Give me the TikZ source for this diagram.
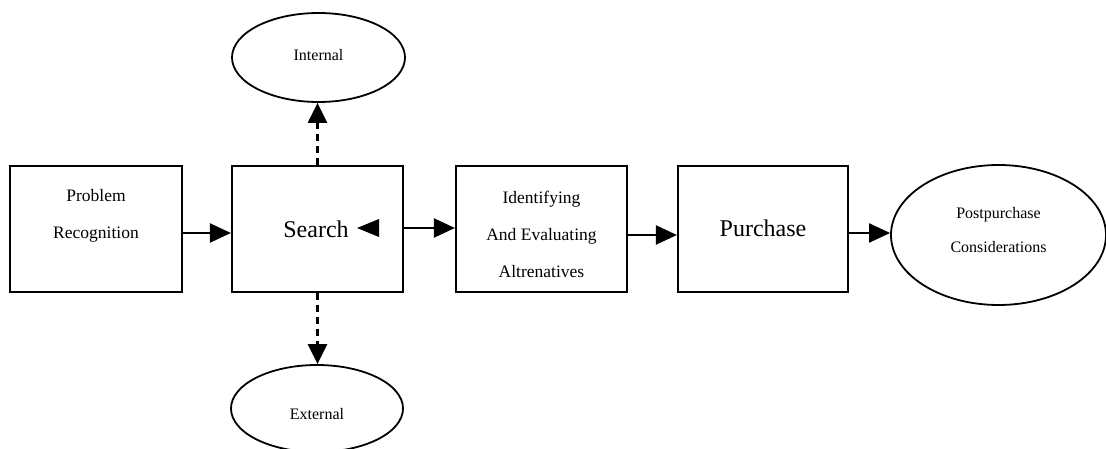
\documentclass[tikz,border=0pt]{standalone}
\usepackage{fontspec}
\setmainfont{Liberation Serif}
\usetikzlibrary{arrows.meta,shapes.geometric}
\tikzset{
  stagebox/.style={draw, line width=2.2pt, rectangle, inner sep=0pt},
  oval/.style={draw, line width=1.8pt, ellipse, inner sep=0pt},
  smalltxt/.style={align=center, inner sep=0pt, font=\fontsize{17.5}{37}\selectfont},
  oveltxt/.style={align=center, inner sep=0pt, font=\fontsize{16}{34}\selectfont},
  bigtxt/.style={inner sep=0pt, font=\fontsize{24}{28}\selectfont},
  arr/.style={line width=2.2pt, -{Triangle[length=21pt,width=19pt]}},
  darr/.style={line width=2.4pt, dash pattern=on 7pt off 5pt, -{Triangle[length=20pt,width=19pt]}}
}
\begin{document}
\begin{tikzpicture}[x=1pt,y=-1pt]
\useasboundingbox[fill=white] (0,0) rectangle (1106,449);
% boxes
\node[stagebox, minimum width=172pt, minimum height=126pt] (prob) at (96,229) {};
\node[stagebox, minimum width=171pt, minimum height=126pt] (search) at (317.5,229) {};
\node[stagebox, minimum width=171pt, minimum height=126pt] (ident) at (541.5,229) {};
\node[stagebox, minimum width=170pt, minimum height=126pt] (purch) at (763,229) {};
% ellipses
\node[oval, minimum width=215pt, minimum height=140pt] (post) at (998.5,235) {};
\node[oval, minimum width=173pt, minimum height=89pt] (intl) at (318.5,57.5) {};
\node[oval, minimum width=172pt, minimum height=87pt] (extl) at (317,408.5) {};
% texts
\node[smalltxt] (probt) at (96,216) {Problem\\Recognition};
\node[bigtxt] (searcht) at (316,229) {Search};
\fill (357,228) -- (379,219) -- (379,237) -- cycle;
\node[smalltxt] (identt) at (541.5,234) {Identifying\\And Evaluating\\Altrenatives};
\node[bigtxt] (purcht) at (763,228) {Purchase};
\node[oveltxt] (postt) at (998.5,230) {Postpurchase\\Considerations};
\node[oveltxt] (intlt) at (318.5,55) {Internal};
\node[oveltxt] (extlt) at (317,414) {External};
% connectors
\draw[arr] ([yshift=-4pt]prob.east) -- ([yshift=-4pt]search.west);
\draw[arr] ([yshift=1pt]search.east) -- ([yshift=1pt]ident.west);
\draw[arr] ([yshift=-6pt]ident.east) -- ([yshift=-6pt]purch.west);
\draw[arr] ([yshift=-4pt]purch.east) -- ([yshift=2pt]post.west);
\draw[darr] (search.north) -- (search.north |- intl.south);
\draw[darr] (search.south) -- (search.south |- extl.north);
\end{tikzpicture}
\end{document}
